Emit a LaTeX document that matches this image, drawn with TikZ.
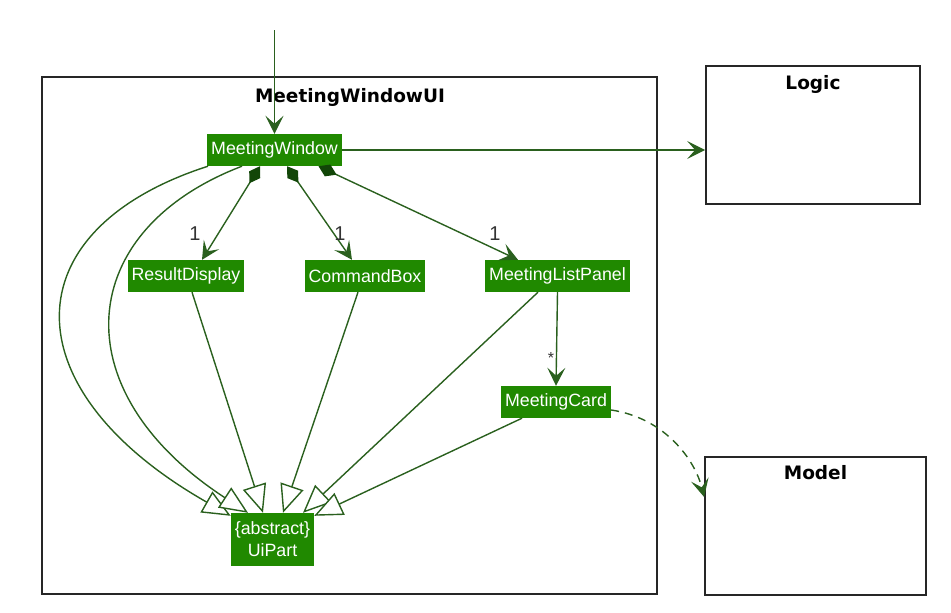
\documentclass[tikz,border=0pt]{standalone}
\usepackage{fontspec}
\setmainfont{Liberation Sans}
\newfontfamily\pkgfont{DejaVu Sans}
\usetikzlibrary{arrows.meta,calc}

\definecolor{classfill}{RGB}{32,137,0}
\definecolor{linkgreen}{RGB}{42,96,30}
\definecolor{diamondgreen}{RGB}{18,70,8}

\tikzset{
  cls/.style={fill=classfill, text=white, font=\fontsize{17.8}{22}\selectfont,
    inner xsep=4pt, inner ysep=0pt, minimum height=32pt, align=center},
  pkg/.style={draw=black!85, line width=1.8pt, fill=none},
  pkgtitle/.style={font=\pkgfont\bfseries\fontsize{18.5}{22}\selectfont},
  link/.style={draw=linkgreen, line width=1.4pt},
  headtip/.style={-{Stealth[length=18pt,width=18pt,inset=8pt,linkgreen]}},
  assoc/.style={link, headtip},
  comp/.style={link, {Diamond[length=20pt,width=13pt,fill=diamondgreen,diamondgreen]}-{Stealth[length=18pt,width=18pt,inset=8pt,linkgreen]}},
  inherit/.style={link, -{Triangle[open,length=28pt,width=24pt,fill=white,linkgreen]}},
  depend/.style={link, dash pattern=on 8pt off 6pt, headtip},
  mult/.style={font=\fontsize{20}{22}\selectfont, text=black!80, inner sep=0pt},
  star/.style={font=\fontsize{16}{18}\selectfont, text=black!80, inner sep=0pt}
}

\begin{document}
\begin{tikzpicture}[x=1pt,y=-1pt]
  \useasboundingbox (0,0) rectangle (951,613);

  % package frames
  \node[pkg, minimum width=615pt, minimum height=517pt] (uibox) at (349.5,335.5) {};
  \node[pkg, minimum width=214pt, minimum height=138pt] (lgbox) at (813,135) {};
  \node[pkg, minimum width=221pt, minimum height=138pt] (mdbox) at (815.5,526) {};
  \node[pkgtitle] (uititle) at (350,97) {MeetingWindowUI};
  \node[pkgtitle] (lgtitle) at (813,84) {Logic};
  \node[pkgtitle] (mdtitle) at (815.5,473) {Model};

  % classes
  \node[cls] (mw) at (274.5,150) {MeetingWindow};
  \node[cls] (rd) at (186,276) {ResultDisplay};
  \node[cls] (cb) at (365,276) {CommandBox};
  \node[cls] (mlp) at (557.5,276) {MeetingListPanel};
  \node[cls] (mc) at (556,402) {MeetingCard};
  \node[cls, minimum height=53pt] (ui) at (272.5,539.5) {\{abstract\}\\UiPart};

  % entry point
  \coordinate (entry) at (274.5,30);
  \draw[assoc] (entry) -- (mw.north);

  % associations
  \draw[assoc] (mw.east) -- (mw.east -| lgbox.west);
  \draw[comp] ([xshift=-14.5pt]mw.south) -- ([xshift=16pt]rd.north);
  \draw[comp] ([xshift=12.5pt]mw.south) -- ([xshift=-13pt]cb.north);
  \draw[comp] ([xshift=44pt]mw.south) -- ([xshift=-39.5pt]mlp.north);
  \draw[assoc] (mlp.south) -- (mc.north);
  \node[mult] (m1) at (195,234) {1};
  \node[mult] (m2) at (340,234) {1};
  \node[mult] (m3) at (495,234) {1};
  \node[star] (m4) at (551,358) {*};

  % dependency on the model
  \draw[depend] ([yshift=-8pt]mc.east) .. controls (665,418) and (695,460) .. ([yshift=29pt]mdbox.west);

  % inheritance
  \draw[inherit] ([xshift=-66.5pt]mw.south) .. controls (10,230) and (10,390) .. ([yshift=-3pt]ui.north west);
  \draw[inherit] ([xshift=-32.5pt]mw.south) .. controls (75,230) and (60,390) .. ([xshift=-24.5pt]ui.north);
  \draw[inherit] ([xshift=6pt]rd.south) -- ([xshift=-9.5pt]ui.north);
  \draw[inherit] ([xshift=-7pt]cb.south) -- ([xshift=10.5pt]ui.north);
  \draw[inherit] ([xshift=-19.5pt]mlp.south) -- ([xshift=30.5pt]ui.north);
  \draw[inherit] ([xshift=-34pt]mc.south) -- ([yshift=-3pt]ui.north east);
\end{tikzpicture}
\end{document}
